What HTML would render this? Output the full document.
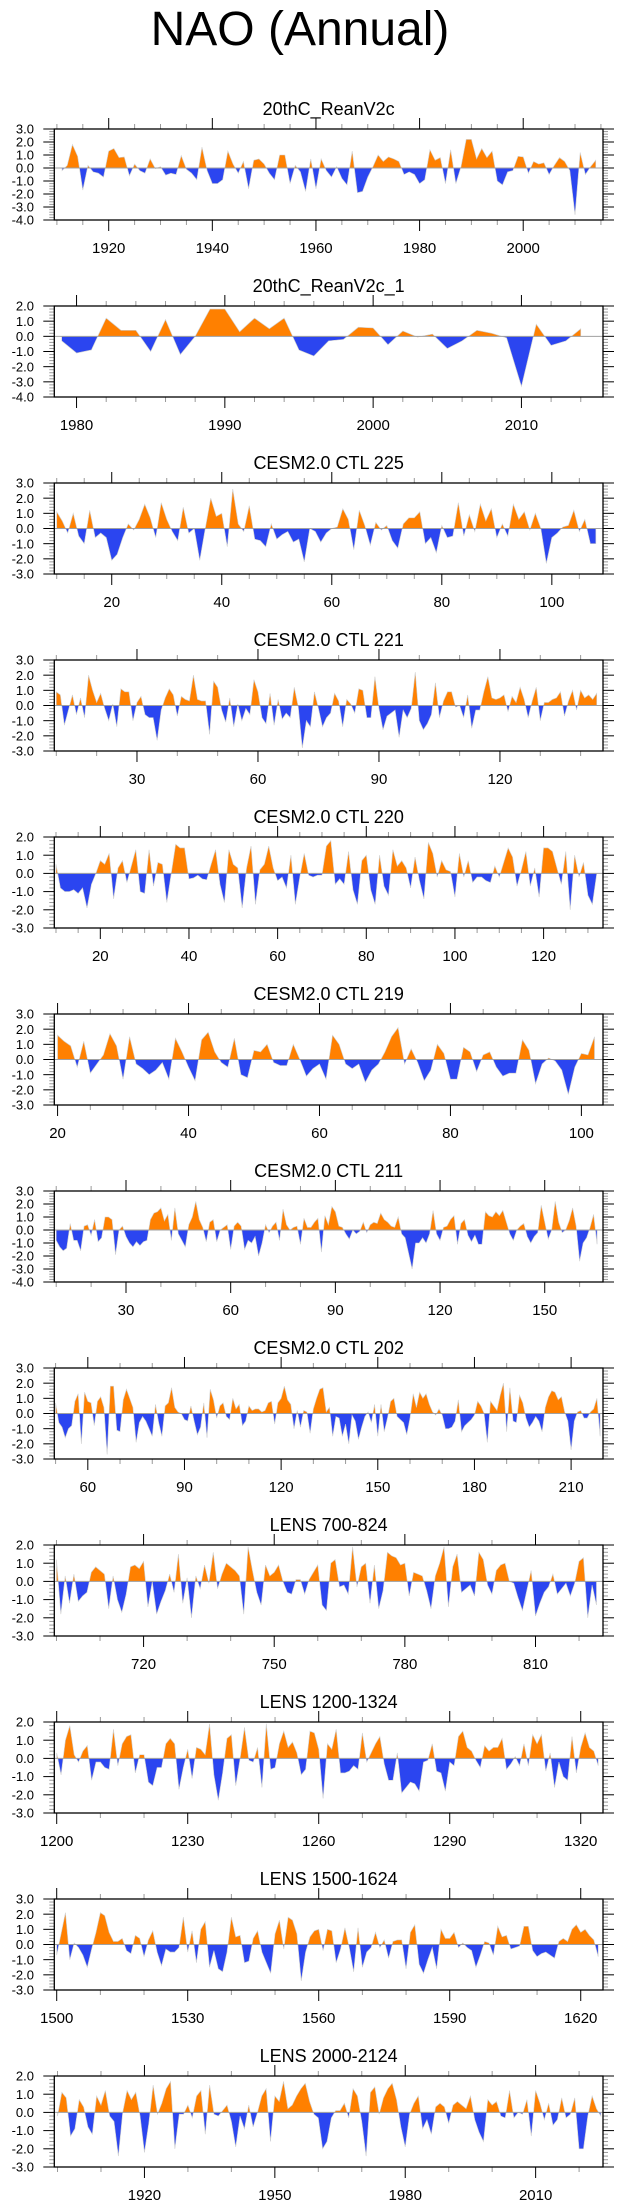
<!DOCTYPE html>
<html><head><meta charset="utf-8"><style>
html,body{margin:0;padding:0;background:#fff;}
svg{display:block;font-family:"Liberation Sans",Arial,sans-serif;}
</style></head><body>
<svg id="chart" width="623" height="2209" viewBox="0 0 623 2209" xmlns="http://www.w3.org/2000/svg">
<text x="300" y="45" font-size="48" text-anchor="middle" fill="#000">NAO (Annual)</text>
</svg>
<script>
const titles = ["20thC_ReanV2c","20thC_ReanV2c_1","CESM2.0 CTL 225","CESM2.0 CTL 221","CESM2.0 CTL 220","CESM2.0 CTL 219","CESM2.0 CTL 211","CESM2.0 CTL 202","LENS 700-824","LENS 1200-1324","LENS 1500-1624","LENS 2000-2124"];
const startYears = [1911,1979,10,10,10,20,10,50,700,1200,1500,1900];
const xMins = [1909.5,1978.5,9.56,9.5,9.62,19.5,9.45,49.6,699.5,1199.45,1499.45,1899.26];
const xMaxs = [2015.4,2015.5,109.3,145.55,133.4,103.3,166.7,219.9,825.5,1325.1,1625.1,2025.5];
const yMins = [-4,-4,-3,-3,-3,-3,-4,-3,-3,-3,-3,-3];
const yMaxs = [3,2,3,3,2,3,3,3,2,2,3,2];
const xLabelStarts = [1920,1980,20,30,20,20,30,60,720,1200,1500,1920];
const xLabelEnds = [2000,2010,100,120,120,100,150,210,810,1320,1620,2010];
const xLabelSteps = [20,10,20,30,20,20,30,30,30,30,30,30];
const xMinorSteps = [5,2,5,10,5,5,10,10,10,10,10,10];

const v1 = [-0.2,0.2,1.8,0.9,-1.7,0.2,-0.3,-0.4,-0.7,1.3, 1.5,0.8,0.85,-0.6,0.3,-0.2,-0.4,0.7,-0.05,0.1, -0.55,-0.4,-0.5,0.95,-0.1,-0.4,-0.9,1.6,-0.2,-1.2, -1.2,-0.9,1.3,0.3,-0.4,0.5,-1.6,0.6,0.7,0.3, -0.4,-0.9,1.0,1.0,-1.2,0.2,-0.3,-1.8,0.7,-1.6, 0.7,-0.2,-0.7,0.1,-0.8,-1.3,1.3,-1.9,-1.8,-0.7, 0.1,1.0,0.5,0.85,0.7,0.5,-0.5,-0.3,-0.5,-1.2, -0.9,1.4,0.6,0.8,-1.2,1.4,-1.2,0.1,2.2,2.2, 0.7,1.5,0.8,1.3,-1.0,-1.3,-0.3,-0.2,0.9,0.85, -0.4,0.5,0.3,0.4,-0.5,0.2,0.8,0.5,-0.2,-3.6, 1.2,-0.5,0.1,0.6];
const v2 = [-0.3,-1.1,-0.9,1.2,0.4,0.4,-1.0,1.1,-1.2,0.0,1.8,1.8,0.3,1.2,0.5,1.2,-0.9,-1.3,-0.3,-0.2,0.6,0.55,-0.55,0.35,-0.05,0.15,-0.8,-0.3,0.4,0.2,-0.1,-3.3,0.8,-0.6,-0.3,0.5];
const v3 = [1.1,0.5,-0.3,1.0,-0.5,-1.0,1.2,-0.6,-0.3,-0.6, -2.1,-1.7,-0.6,0.3,-0.1,0.6,1.6,0.7,-0.6,1.7, 0.6,-0.2,-0.8,1.4,-0.3,0.0,-2.1,0.0,2.0,0.8, 1.0,-1.2,2.6,0.3,-0.2,1.5,-0.7,-0.8,-1.2,0.3, -0.7,-0.4,-0.2,-0.9,-0.7,-2.2,0.0,-0.2,-0.9,-0.3, 0.0,0.1,1.3,0.6,-1.4,1.2,0.2,-1.1,0.4,-0.1, 0.2,-0.8,-1.3,0.3,0.7,0.7,1.1,-1.0,-0.6,-1.6, 0.2,-0.6,-0.5,1.7,-0.5,0.9,-0.2,1.6,0.5,1.3, -0.6,0.3,-0.5,1.6,0.6,1.1,-0.1,1.0,0.0,-2.3, -0.6,-0.3,0.1,0.2,1.2,-0.2,0.6,-1.0,-1.0];
const v4 = [0.9,0.7,-1.3,-0.3,0.7,-0.6,0.5,-0.8,2.0,1.0, 0.2,0.8,-0.2,-1.0,0.1,-1.4,1.1,0.9,0.9,-1.0, 0.2,0.6,-0.6,-0.8,-0.8,-2.3,-0.3,0.5,1.1,0.7, -0.7,0.6,0.4,0.3,2.0,0.4,0.3,0.3,-1.9,1.6, 1.2,-0.3,-1.1,0.5,-1.4,0.1,-1.0,-0.2,-0.6,1.7, 0.9,-0.8,-1.2,0.8,-1.3,0.4,-0.9,-0.5,-0.8,1.2, -0.1,-2.8,-1.0,-1.4,0.9,-0.2,-1.4,-0.8,-0.5,0.8, 0.3,-1.4,0.4,0.1,-0.5,1.1,1.0,-0.8,-0.8,1.9, -0.2,-1.6,-0.7,-0.5,-0.3,-2.1,-0.3,-0.8,-0.2,2.2, -1.0,-1.6,-1.2,-0.6,1.5,-0.8,0.3,0.9,0.9,-0.1, 0.0,-0.8,0.7,-1.5,-0.3,-0.3,0.9,1.9,0.5,0.4, 0.5,0.7,-0.4,0.6,0.2,1.2,0.4,-0.8,0.3,1.2, -1.0,0.2,0.2,0.4,0.5,0.9,-0.7,0.3,1.0,-0.3, 1.0,0.5,0.7,0.4,0.8];
const v5 = [0.5,-0.8,-1.0,-1.0,-0.9,-1.1,-0.8,-1.9,-0.6,0.0, 0.7,0.5,1.1,-1.4,0.3,0.7,-0.5,0.4,1.3,-1.0, -1.1,1.3,-0.7,0.6,0.5,-1.6,0.0,1.6,1.4,1.4, -0.3,-0.25,-0.1,-0.3,-0.35,0.5,1.3,-0.6,-1.6,1.3, 0.5,0.3,-1.9,0.3,1.5,-1.7,0.2,0.5,1.5,0.3, -0.4,-0.2,-0.8,1.0,-1.7,-0.2,1.1,-0.1,-0.2,-0.1, -0.1,1.5,1.8,-0.6,-0.3,-0.6,1.2,-0.9,-1.7,0.7, 1.0,-0.9,-1.7,1.0,-0.7,-1.2,1.3,0.4,0.7,0.3, -0.8,0.9,-0.4,-1.4,1.7,1.1,-0.2,0.7,0.2,0.1, -1.3,1.1,-0.2,0.7,-0.5,-0.2,-0.2,-0.4,-0.5,0.4, -0.2,0.6,1.4,0.9,-0.7,0.2,1.2,-0.7,0.3,-1.3, 1.4,1.4,1.2,0.3,-0.6,1.2,-2.0,1.0,-0.2,0.6, -1.2,-1.7,0.0];
const v6 = [1.6,1.2,0.9,-0.5,1.2,-0.9,-0.3,0.3,1.7,0.9, -1.3,1.5,-0.3,-0.6,-1.0,-0.7,-0.2,-1.3,1.4,0.5, -0.5,-1.4,1.3,1.8,0.5,-0.2,-0.5,1.4,-1.0,-1.2, 0.6,0.5,1.0,-0.2,-0.4,-0.4,1.0,0.0,-1.1,-0.6, -0.3,-1.3,1.6,1.0,-0.3,-0.6,-0.3,-1.5,-0.7,-0.3, 0.5,1.5,2.1,-0.3,0.7,-0.2,-1.4,-0.7,1.0,0.4, -1.3,-1.3,0.8,0.5,-0.8,0.3,0.5,-0.5,-1.1,-0.9, -0.9,1.3,0.6,-1.6,-0.3,0.1,-0.1,-0.7,-2.3,-0.5, 0.4,0.3,1.5];
const v7 = [-0.8,-1.3,-1.6,-1.4,0.5,-0.8,-0.8,-1.6,0.3,0.4, -0.4,0.8,-0.9,-0.6,1.0,1.0,0.8,-1.9,0.0,0.3, -0.5,-1.0,-1.3,-0.9,-1.2,-0.9,-0.8,0.8,1.3,1.4, 1.7,0.7,1.2,-0.8,1.7,-0.3,-0.8,-1.3,0.4,1.0, 2.2,0.8,0.2,-0.9,0.6,0.8,-0.9,0.0,0.2,0.4, -1.5,0.3,0.6,0.3,-1.5,-0.8,-1.0,-0.5,-2.0,-1.0, 0.4,-0.2,0.3,0.6,-0.8,1.6,0.4,0.0,0.2,0.3, -1.1,0.9,0.2,0.2,0.6,0.9,-1.7,1.1,0.4,1.8, 1.4,0.3,0.2,-0.3,-0.7,0.0,-0.3,-0.1,0.6,-0.2, 0.4,0.6,0.5,1.3,0.8,0.6,0.3,0.2,1.0,-0.3, -0.6,-1.8,-3.0,-1.0,-1.0,-0.6,-1.0,-0.3,1.5,-0.3, -0.8,0.2,0.3,0.8,1.1,-1.1,0.5,0.8,-0.4,-0.9, -0.4,-1.1,-1.1,1.4,1.1,1.0,1.4,1.1,1.5,0.6, -0.3,-0.8,0.0,0.3,0.5,-0.5,-1.0,-0.5,-0.2,1.9, 0.6,-0.7,0.0,2.2,0.6,-0.2,0.0,0.7,1.7,0.3, -2.4,-1.0,-0.6,0.2,1.2,-1.1];
const v8 = [0.7,-0.6,-0.9,-1.6,-1.0,-0.8,0.8,1.3,-2.0,1.4, 0.8,0.7,-0.8,0.8,1.1,0.4,-2.7,1.8,1.8,-1.1, -1.2,0.9,1.6,1.0,0.4,-1.9,-0.6,-0.2,-0.5,-1.0, -1.5,0.6,-0.6,-1.5,0.5,0.7,1.7,0.4,0.1,0.0, -0.4,-0.5,0.5,-0.5,-1.4,-0.9,0.7,-1.6,1.6,0.9, -0.3,0.5,0.7,-0.2,-0.4,1.0,0.3,0.6,-0.8,-0.5, 0.5,0.2,0.3,0.3,0.1,0.2,0.7,0.8,-0.7,0.7, 1.0,1.8,0.9,0.6,-1.0,0.2,-0.9,0.2,0.1,-1.3, 0.3,1.0,1.6,1.7,0.1,0.4,-1.5,-0.2,-0.3,-1.5, -0.7,-2.0,-0.1,-0.5,-1.7,-0.9,-0.2,0.1,-0.6,0.6, -1.5,0.6,-1.2,-0.3,0.8,1.0,-0.2,-0.4,-0.6,-1.4, -0.3,1.3,0.4,1.4,1.0,1.3,0.6,0.1,-0.1,0.3, -0.1,-1.0,-1.0,-0.9,-0.5,0.9,-1.2,-0.8,-0.6,-0.4, -0.1,0.8,0.5,0.0,-1.9,0.8,0.5,0.2,1.2,2.0, -1.2,1.7,-0.5,-0.6,1.2,0.7,-0.3,-0.9,-0.6,-0.2, -0.5,-1.2,0.4,1.1,1.5,1.4,0.9,1.1,0.1,-0.5, -2.4,-0.5,0.1,0.2,-0.3,-0.3,0.1,0.3,1.0,-1.5];
const v9 = [1.2,-1.8,0.3,-1.2,0.4,-1.1,-0.8,-0.6,0.5,0.8, 0.6,0.4,-1.5,0.3,-1.0,-1.7,-0.7,0.8,0.9,0.7, 1.1,-1.4,0.0,-1.8,-1.1,-0.5,0.4,-0.6,1.5,-1.2, 0.2,-2.0,0.3,-0.4,0.9,-0.1,1.6,-0.4,0.4,1.0, 0.8,0.6,0.3,-1.8,1.9,0.6,-0.6,-1.3,0.9,0.3, 0.5,0.9,0.0,-0.6,-0.7,0.1,0.1,-0.7,0.1,0.5, 0.9,-1.3,-1.6,1.0,1.2,-0.3,-0.2,-0.7,1.9,-0.3, 0.8,1.0,-1.2,0.9,-1.5,-0.5,1.6,1.4,1.3,0.9, 1.0,-0.8,0.5,0.4,0.3,-0.5,-1.5,0.3,1.0,1.9, -1.4,0.8,1.5,-0.6,-0.4,-0.2,-0.8,1.6,1.2,-0.2, -0.7,0.6,0.9,1.0,0.0,-0.1,-0.9,-1.6,-0.5,0.6, -1.9,-1.2,-0.6,-0.3,0.4,-0.7,-0.4,-0.1,-0.8,-0.1, 1.1,1.3,-2.0,-0.2,-1.3];
const v10 = [0.3,-0.9,1.0,1.8,0.2,-0.2,0.4,0.7,-1.2,-0.2, -0.2,-0.5,-0.6,1.6,-0.4,0.8,1.2,1.3,-0.8,0.2, 0.2,-1.3,-1.5,-0.5,-0.5,0.8,1.1,0.8,-1.7,-0.5, 0.5,-1.1,0.6,0.5,0.2,1.9,-0.9,-2.3,-0.8,1.1, 1.3,-1.5,0.0,1.7,-0.1,-0.2,0.6,-1.6,1.9,-0.6, -0.5,0.8,1.5,0.6,0.9,0.3,-0.9,-0.6,1.5,1.4, 0.5,-2.2,0.8,0.5,1.6,-0.8,-0.8,-0.7,-0.4,-0.6, 1.4,-0.2,0.3,0.8,1.2,-0.3,-1.2,-1.2,0.3,-1.9, -1.6,-1.3,-1.4,-1.8,-0.2,-0.1,0.8,-0.7,-0.8,-1.8, -0.2,-0.4,1.2,1.5,0.6,0.4,-0.1,-0.5,0.7,0.4, 0.6,0.6,1.1,-0.6,-0.3,0.1,-0.4,0.8,-0.4,1.3, 0.8,1.3,-0.7,0.3,-1.6,-0.2,-1.0,-1.2,1.2,-0.8, 0.6,1.4,0.6,0.4,-0.4];
const v11 = [-0.7,0.7,2.1,-1.0,0.1,-0.2,-0.7,-1.5,-0.3,0.8, 2.1,1.9,0.8,0.2,0.2,0.4,-0.4,-0.6,0.6,0.4, -0.8,0.3,0.9,-0.5,-1.4,-0.3,-0.5,-0.5,-0.2,1.8, -0.5,0.9,-1.2,1.0,1.5,-1.5,-0.4,-1.6,-1.8,-0.5, 1.8,0.5,0.6,-1.2,-1.1,0.4,0.9,-0.5,-1.2,-1.9, 0.7,1.6,-0.3,1.8,1.6,0.7,-2.4,-0.5,0.5,0.9, 1.0,-0.4,1.0,0.9,-1.2,-0.3,1.1,-0.2,-1.8,1.1, -1.5,-0.5,-0.2,0.8,-0.2,0.3,-0.9,0.2,0.3,0.3, -1.6,0.8,1.3,-1.3,-1.9,-1.0,-0.2,-1.6,1.0,0.4, 0.4,0.8,-0.2,0.1,-0.2,-0.4,-1.5,-0.7,0.2,0.1, -0.7,1.2,0.5,0.6,-0.3,-0.2,-0.1,1.2,1.2,-0.4, -0.8,-0.6,-0.5,-0.7,-0.9,0.2,0.4,0.2,1.0,1.3, 0.8,1.0,0.6,0.3,-0.8];
const v12 = [-0.2,1.1,0.8,-1.3,-0.9,0.7,0.3,-0.8,-1.2,0.9, 0.4,1.2,-0.2,-0.5,-2.4,0.0,1.2,0.7,1.1,-0.2, -2.2,-0.6,1.5,-0.1,0.5,1.3,1.7,-2.0,-0.1,-0.1, 0.4,-0.3,0.9,1.2,-1.2,1.5,-0.1,-0.2,0.1,0.4, -0.5,-1.9,-0.2,-0.9,0.4,-0.8,0.0,0.9,1.3,-1.6, 0.9,0.6,1.7,0.2,0.4,0.9,1.3,1.6,0.6,-0.1, -0.3,-2.0,-1.6,-0.3,0.1,0.1,0.5,-0.3,1.3,0.9, -0.5,-2.4,1.1,1.4,-0.1,0.8,1.3,1.6,0.7,-0.8, -1.9,-0.1,0.5,0.9,-0.9,-0.4,-1.2,0.3,0.5,0.3, -0.6,0.4,0.6,0.4,0.2,0.9,-0.4,-1.1,-1.6,0.7, 0.4,0.6,-0.2,-0.3,1.2,-0.3,0.0,-0.1,0.7,-1.3, 1.2,0.5,-0.4,0.5,-0.7,-0.4,0.8,-0.3,-0.1,0.8, -2.0,-2.0,-0.2,0.9,0.2,-0.2];
const seriesList = [v1,v2,v3,v4,v5,v6,v7,v8,v9,v10,v11,v12];

const NS = "http://www.w3.org/2000/svg";
const svg = document.getElementById("chart");
const LEFT = 54.3, RIGHT = 603, H = 91, TOP0 = 129, GAP = 177;
function el(tag, attrs, parent) {
  const e = document.createElementNS(NS, tag);
  for (const k in attrs) e.setAttribute(k, attrs[k]);
  parent.appendChild(e);
  return e;
}
const ORANGE = "#ff8000", BLUE = "#2b45f0";

for (let p = 0; p < seriesList.length; p++) {
  const top = TOP0 + GAP * p, bot = top + H;
  const x0 = xMins[p], x1 = xMaxs[p], y0 = yMins[p], y1 = yMaxs[p];
  const xs = t => LEFT + (t - x0) / (x1 - x0) * (RIGHT - LEFT);
  const ys = v => bot - (v - y0) / (y1 - y0) * H;
  const g = el("g", {}, svg);
  
  

  const title = el("text", {x: (LEFT + RIGHT) / 2, y: top - 14, "font-size": 18, "text-anchor": "middle", fill: "#000"}, g);
  title.textContent = titles[p];
  
  

  // area fills
  const data = seriesList[p];
  const zy = ys(0);
  let d = "M" + xs(startYears[p]).toFixed(2) + "," + zy.toFixed(2);
  for (let i = 0; i < data.length; i++) d += " L" + xs(startYears[p] + i).toFixed(2) + "," + ys(data[i]).toFixed(2);
  d += " L" + xs(startYears[p] + data.length - 1).toFixed(2) + "," + zy.toFixed(2) + " Z";
  const cidA = "ca" + p, cidB = "cb" + p;
  const defs = el("defs", {}, g);
  const cpA = el("clipPath", {id: cidA}, defs);
  el("rect", {x: 0, y: top, width: 623, height: zy - top}, cpA);
  const cpB = el("clipPath", {id: cidB}, defs);
  el("rect", {x: 0, y: zy, width: 623, height: bot - zy}, cpB);
  const pos = el("path", {d: d, fill: ORANGE, stroke: "#cfcfcf", "stroke-width": 0.6, "clip-path": "url(#" + cidA + ")"}, g);
  
  
  const neg = el("path", {d: d, fill: BLUE, stroke: "#cfcfcf", "stroke-width": 0.6, "clip-path": "url(#" + cidB + ")"}, g);
  
  
  const zl = el("line", {x1: LEFT, x2: RIGHT, y1: zy, y2: zy, stroke: "#a0a0a0", "stroke-width": 1}, g);
  
  

  // y ticks
  for (let v = y0; v <= y1 + 1e-9; v += 0.2) {
    const y = ys(v);
    const major = Math.abs(v - Math.round(v)) < 1e-6;
    const len = major ? 11 : 5;
    const col = major ? "#000" : "#999";
    el("line", {x1: LEFT - len, x2: LEFT, y1: y, y2: y, stroke: col, "stroke-width": 1}, g);
    el("line", {x1: RIGHT, x2: RIGHT + len, y1: y, y2: y, stroke: col, "stroke-width": 1}, g);
    if (major) {
      const lab = el("text", {x: 34, y: y + 4.6, "font-size": 13, "text-anchor": "end", fill: "#000"}, g);
      lab.textContent = Math.round(v).toFixed(1);
      
      
    }
  }
  // x ticks
  const ms = xMinorSteps[p];
  for (let t = Math.ceil(x0 / ms) * ms; t <= x1; t += ms) {
    const x = xs(t);
    const major = ((t - xLabelStarts[p]) % xLabelSteps[p] === 0);
    const len = major ? 11 : 5;
    const col = major ? "#000" : "#999";
    el("line", {x1: x, x2: x, y1: bot, y2: bot + len, stroke: col, "stroke-width": 1}, g);
    el("line", {x1: x, x2: x, y1: top - len, y2: top, stroke: col, "stroke-width": 1}, g);
  }
  for (let t = xLabelStarts[p]; t <= xLabelEnds[p]; t += xLabelSteps[p]) {
    const lab = el("text", {x: xs(t), y: bot + 33, "font-size": 15, "text-anchor": "middle", fill: "#000"}, g);
    lab.textContent = String(t);
    
    
  }
  const frame = el("rect", {x: LEFT, y: top, width: RIGHT - LEFT, height: H, fill: "none", stroke: "#000", "stroke-width": 1.3}, g);
  
  
}
</script>
</body></html>
